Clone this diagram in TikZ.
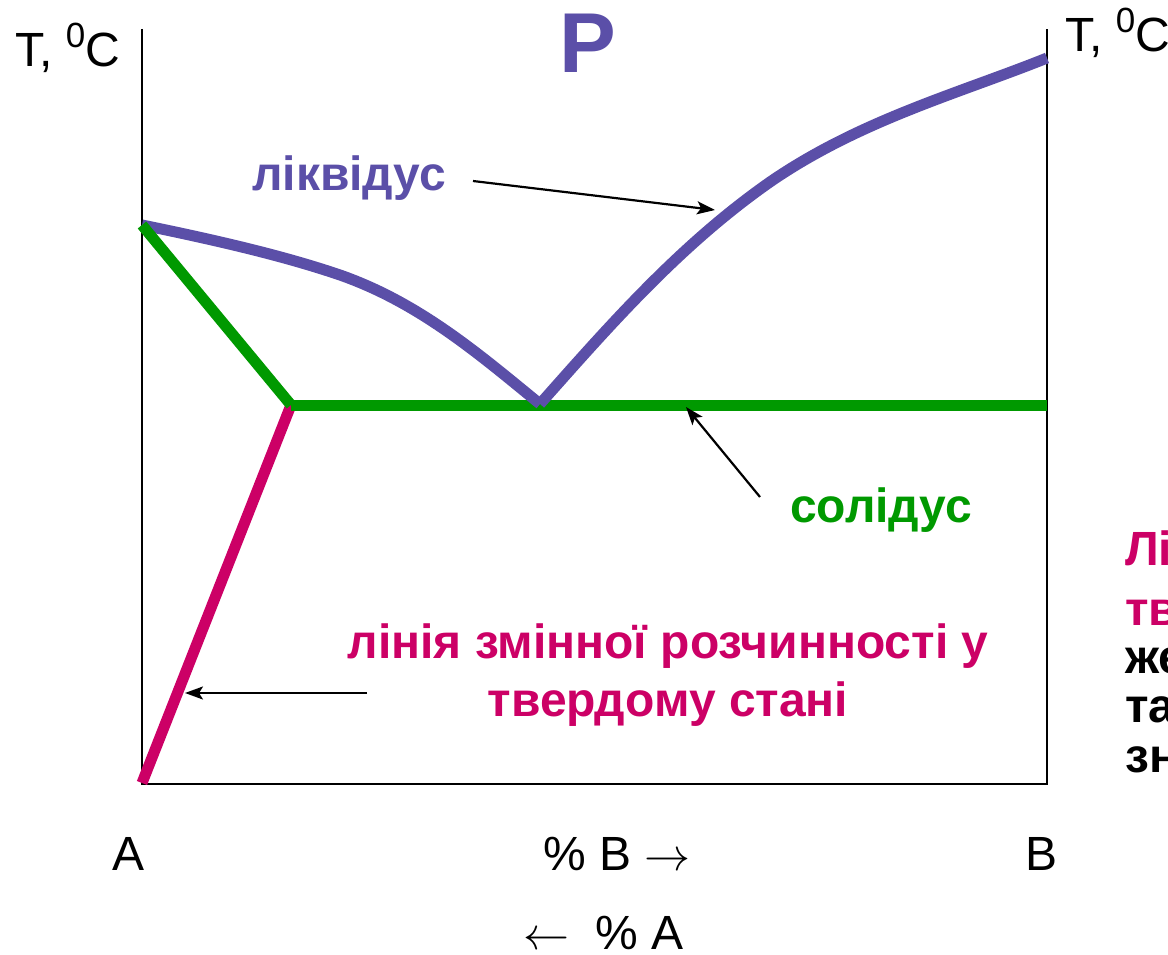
\documentclass[tikz,border=0pt]{standalone}
\usepackage{fontspec}
\setmainfont{Liberation Sans}
\usetikzlibrary{arrows.meta}
\definecolor{liqcol}{RGB}{91,79,168}
\definecolor{solcol}{RGB}{0,153,0}
\definecolor{pinkcol}{RGB}{204,0,102}
\newcommand{\degzero}{\raisebox{19pt}{\fontsize{35}{40}\selectfont 0}}
\newcommand{\bigrarr}{\scalebox{4.6}{\fontsize{10}{12}\selectfont$\rightarrow$}}
\newcommand{\bigLarr}{\scalebox{4.6}{\fontsize{10}{12}\selectfont$\leftarrow$}}
\tikzset{
  axisline/.style={draw=black, line width=2pt},
  curve/.style={line width=11pt, line cap=butt, line join=miter},
  pointer/.style={draw=black, line width=2.2pt, -{Stealth[length=18pt,width=13pt,inset=4pt]}},
  lbl/.style={inner sep=0pt, font=\fontsize{48}{58}\selectfont},
  blbl/.style={inner sep=0pt, font=\fontsize{48}{58}\selectfont\bfseries},
}
\begin{document}
\begin{tikzpicture}[x=1pt,y=-1pt]
\useasboundingbox[fill=white] (0,0) rectangle (1168,955);
% axes
\coordinate (TL) at (142,29);
\coordinate (BL) at (142,784);
\coordinate (BR) at (1047,784);
\coordinate (TR) at (1047,29);
\draw[axisline] (TL) -- (BL) -- (BR) -- (TR);
% key points
\coordinate (A) at (142,225);
\coordinate (Abot) at (142,783);
\coordinate (K) at (291,405);
\coordinate (E) at (540,404);
\coordinate (Send) at (1047,405);
\coordinate (Bliq) at (1047,58);
% lines
\draw[curve, pinkcol] (Abot) -- (K);
\draw[curve, solcol] (K) -- (Send);
\draw[curve, liqcol] (A) .. controls (230,243) and (290,258) .. (340,275) .. controls (420,303) and (480,355) .. (E);
\draw[curve, liqcol] (E) .. controls (610,325) and (680,245) .. (770,182) .. controls (860,120) and (960,93) .. (Bliq);
\draw[curve, solcol] (A) -- (K);
% labels
\node[lbl, anchor=base west] (tl) at (15,67) {T, \degzero C};
\node[lbl, anchor=base west] (tr) at (1065,52) {T, \degzero C};
\node[inner sep=0pt, anchor=base, text=liqcol, font=\fontsize{85}{100}\selectfont\bfseries] (P) at (588,73) {P};
\node[blbl, anchor=base west, text=liqcol] (liq) at (252,190) {ліквідус};
\node[blbl, anchor=base west, text=solcol] (sol) at (790,522) {солідус};
\node[blbl, anchor=base, text=pinkcol] (sv1) at (668,658) {лінія змінної розчинності у};
\node[blbl, anchor=base, text=pinkcol] (sv2) at (668,716) {твердому стані};
\node[lbl, anchor=base] (la) at (129,870) {A};
\node[lbl, anchor=base west] (lpb) at (543,870) {\% B \bigrarr};
\node[lbl, anchor=base] (lb) at (1041,870) {B};
\node[lbl, anchor=base west] (lpa) at (523,949) {\bigLarr\ \ \% A};
% cut-off text at right edge
\node[blbl, anchor=base west, text=pinkcol] (r1) at (1125,565) {Лі};
\node[blbl, anchor=base west, text=pinkcol] (r2) at (1125,625) {тв};
\node[blbl, anchor=base west] (r3) at (1125,673) {же};
\node[blbl, anchor=base west] (r4) at (1125,722) {та};
\node[blbl, anchor=base west] (r5) at (1125,772) {зн};
% pointers
\coordinate (liqS) at (473,181);
\coordinate (liqT) at (715,210);
\coordinate (solS) at (760,497);
\coordinate (solT) at (686,407);
\coordinate (svS) at (367,693);
\coordinate (svT) at (185,693);
\draw[pointer] (liqS) -- (liqT);
\draw[pointer] (solS) -- (solT);
\draw[pointer] (svS) -- (svT);
\end{tikzpicture}
\end{document}
